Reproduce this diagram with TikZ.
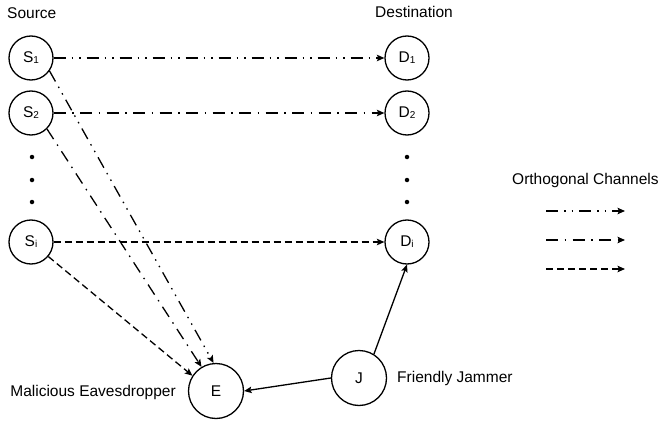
\documentclass[tikz,border=0pt]{standalone}
\usepackage{fontspec}
\setmainfont{Liberation Sans}
\usetikzlibrary{arrows.meta}
\newcommand\sbs[1]{\raisebox{-1pt}{\fontsize{10}{10}\selectfont #1}}
\begin{document}
\begin{tikzpicture}[x=1pt,y=-1pt, font=\fontsize{15.5}{18}\selectfont,
 nd/.style={draw, circle, line width=1.3pt, minimum size=44pt, inner sep=0pt},
 big/.style={nd, minimum size=55pt},
 ln/.style={line width=1.3pt, -{Stealth[length=7.5pt,width=6.5pt,inset=1.5pt]}},
 ddot/.style={ln, dash pattern=on 12pt off 6pt on 1.5pt off 6pt on 1.5pt off 6pt},
 dd/.style={ln, dash pattern=on 12pt off 6.5pt on 1.5pt off 6.5pt},
 dsh/.style={ln, dash pattern=on 7pt off 4pt},
 dotn/.style={circle, fill, inner sep=0pt, minimum size=4.5pt},
 lbl/.style={inner sep=0pt}]
\useasboundingbox (0,0) rectangle (661,425);

\node[lbl, anchor=west] (src) at (7,13) {Source};
\node[lbl] (dst) at (414,12) {Destination};

\node[nd] (S1) at (31,58) {S\sbs{1}};
\node[nd] (S2) at (31,113) {S\sbs{2}};
\node[nd] (Si) at (31,242) {S\sbs{i}};
\node[nd] (D1) at (407,58) {D\sbs{1}};
\node[nd] (D2) at (407,113) {D\sbs{2}};
\node[nd] (Di) at (407,242) {D\sbs{i}};

\node[dotn] (ls1) at (32,157) {};
\node[dotn] (ls2) at (32,180) {};
\node[dotn] (ls3) at (32,202) {};
\node[dotn] (rs1) at (407,157) {};
\node[dotn] (rs2) at (407,180) {};
\node[dotn] (rs3) at (407,202) {};

\node[big] (E) at (216,391) {E};
\node[big] (J) at (359,378) {J};

\node[lbl, anchor=east] (mal) at (176,392) {Malicious Eavesdropper};
\node[lbl, anchor=west] (fj) at (397,378) {Friendly Jammer};
\node[lbl, anchor=west] (oc) at (512,180) {Orthogonal Channels};

\draw[ddot] (S1) -- (D1);
\draw[dd] (S2) -- (D2);
\draw[dsh] (Si) -- (Di);
\draw[ddot] (S1.-35) -- (E.95);
\draw[dd] (S2.-45) -- (E.121);
\draw[dsh] (Si.-40) -- (E.147);
\draw[ln] (J.west) -- (E.east);
\draw[ln] (J.58) -- (Di.-90);

\coordinate (l1a) at (546,211); \coordinate (l1b) at (625,211);
\coordinate (l2a) at (546,240); \coordinate (l2b) at (625,240);
\coordinate (l3a) at (546,269); \coordinate (l3b) at (625,269);
\draw[ddot] (l1a) -- (l1b);
\draw[dd] (l2a) -- (l2b);
\draw[dsh] (l3a) -- (l3b);
\end{tikzpicture}
\end{document}
